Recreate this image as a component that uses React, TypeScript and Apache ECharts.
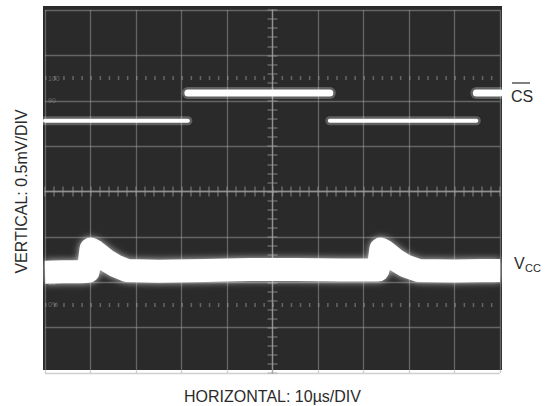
import React, { useEffect, useRef } from "react";
import * as echarts from "echarts";

// Time axis: µs relative to the screen centre (10 µs/div), vertical in divisions
const xTicks = [-50, -40, -30, -20, -10, 0, 10, 20, 30, 40, 50];

// CS trace: edge times (µs) and the state held between them
const csEdgeTimes = [-50, -18.6, 12.6, 44.8, 50];
const csStateSeq = [0, 1, 0, 1];
const csLevelDiv = [1.56, 2.17]; // low, high

// VCC trace (centre of the noisy band)
const vccTimes = [-50, -46, -42, -40.5, -39.9, -39.0, -38.0, -36.5, -34.5, -32, -25, -15, -5, 5, 15, 22, 23.2, 23.8, 24.7, 25.7, 27.2, 29.2, 32, 40, 46, 50];
const vccLevels = [-1.78, -1.77, -1.77, -1.76, -1.27, -1.32, -1.40, -1.52, -1.64, -1.74, -1.76, -1.74, -1.72, -1.72, -1.73, -1.73, -1.73, -1.27, -1.32, -1.40, -1.52, -1.64, -1.74, -1.75, -1.74, -1.74];

// graticule rise-time marker lines (divisions)
const markerLevels = [2.5, -2.5];
const markerLabels = ["100", "90", "10", "0%"];
const markerLabelLevels = [2.5, 2, -2, -2.5];

const W = 547;
const H = 406;
const G = { left: 45, right: 47, top: 10, bottom: 33 };
const FONT = "'Liberation Sans Narrow', 'Liberation Sans', Arial, sans-serif";

export default function App() {
  const ref = useRef<HTMLDivElement>(null);
  useEffect(() => {
    document.body.style.margin = "0";
    const chart = echarts.init(ref.current!, null, { renderer: "svg" });
    const gridColor = "rgba(160,160,160,0.5)";
    const plotW = W - G.left - G.right;
    const plotH = H - G.top - G.bottom;
    const yPix = (v: number) => G.top + plotH * (4 - v) / 8;

    const axisCommon = {
      type: "value",
      axisLabel: { show: false },
      axisLine: { show: true, onZero: true, lineStyle: { color: gridColor, width: 1.3 } },
      axisTick: { show: true, length: 5, lineStyle: { color: gridColor, width: 1.5 } },
      minorTick: { show: true, splitNumber: 5, length: 5, lineStyle: { color: gridColor, width: 1.5 } },
    };
    const xAxisBase = { ...axisCommon, min: xTicks[0], max: xTicks[xTicks.length - 1], interval: 10 };
    const yAxisBase = { ...axisCommon, min: -4, max: 4, interval: 1 };

    const glow = { shadowBlur: 7, shadowColor: "rgba(255,255,255,0.75)" };

    const csSeries: any[] = [];
    csStateSeq.forEach((state, i) => {
      const data = [
        [csEdgeTimes[i], csLevelDiv[state]],
        [csEdgeTimes[i + 1], csLevelDiv[state]],
      ];
      const w = state ? 7 : 4;
      csSeries.push({
        type: "line",
        name: "CS glow",
        data,
        symbol: "none",
        silent: true,
        lineStyle: { color: "rgba(255,255,255,0.25)", width: w + 5, cap: "round" },
        z: 6,
      });
      csSeries.push({
        type: "line",
        name: state ? "CS high" : "CS low",
        data,
        symbol: "none",
        lineStyle: { color: "#ffffff", width: w, cap: "round" },
        z: 7,
      });
    });

    chart.setOption({
      animation: false,
      grid: { ...G },
      xAxis: [
        { ...xAxisBase, position: "bottom", splitLine: { show: true, lineStyle: { color: gridColor, width: 1.3 } } },
        { ...xAxisBase, position: "top", splitLine: { show: false } },
      ],
      yAxis: [
        { ...yAxisBase, position: "left", splitLine: { show: true, lineStyle: { color: gridColor, width: 1.3 } } },
        { ...yAxisBase, position: "right", splitLine: { show: false } },
      ],
      series: [
        {
          type: "line",
          name: "VCC",
          data: vccTimes.map((t, i) => [t, vccLevels[i]]),
          symbol: "none",
          lineStyle: { color: "#ffffff", width: 23, join: "round", cap: "butt", ...glow },
          z: 5,
          markLine: {
            silent: true,
            symbol: "none",
            label: { show: false },
            lineStyle: { color: "rgba(160,160,160,0.5)", width: 4, type: [1.5, 7.6] },
            data: markerLevels.map((v) => ({ yAxis: v })),
          },
        },
        ...csSeries,
      ],
      graphic: [
        {
          type: "rect",
          z: -100,
          silent: true,
          shape: { x: G.left - 2, y: G.top - 4, width: plotW + 4, height: plotH + 1 },
          style: { fill: "#2a2a2a" },
        },
        ...markerLabels.map((s, i) => ({
          type: "text",
          z: 1,
          silent: true,
          x: G.left + 3,
          y: yPix(markerLabelLevels[i]),
          style: { text: s, fill: "rgba(150,150,150,0.6)", font: `7px ${FONT}`, align: "left", verticalAlign: "middle" },
        })),
        {
          type: "text",
          x: 21,
          y: G.top + plotH / 2,
          rotation: Math.PI / 2,
          style: { text: "VERTICAL: 0.5mV/DIV", fill: "#2b2b2b", font: `16px ${FONT}`, align: "center", verticalAlign: "middle" },
        },
        {
          type: "text",
          x: G.left + plotW / 2,
          y: 396,
          style: { text: "HORIZONTAL: 10µs/DIV", fill: "#2b2b2b", font: `16px ${FONT}`, align: "center", verticalAlign: "middle" },
        },
        {
          type: "text",
          x: 511,
          y: 96,
          style: { text: "CS", fill: "#2b2b2b", font: `16px ${FONT}`, align: "left", verticalAlign: "middle" },
        },
        {
          type: "line",
          shape: { x1: 512, y1: 83, x2: 530, y2: 83 },
          style: { stroke: "#2b2b2b", lineWidth: 1.2 },
        },
        {
          type: "text",
          x: 514,
          y: 263,
          style: { text: "V", fill: "#2b2b2b", font: `16px ${FONT}`, align: "left", verticalAlign: "middle" },
        },
        {
          type: "text",
          x: 525,
          y: 268,
          style: { text: "CC", fill: "#2b2b2b", font: `11px ${FONT}`, align: "left", verticalAlign: "middle" },
        },
      ],
    });
    return () => chart.dispose();
  }, []);
  return <div ref={ref} style={{ width: W, height: H }} />;
}
